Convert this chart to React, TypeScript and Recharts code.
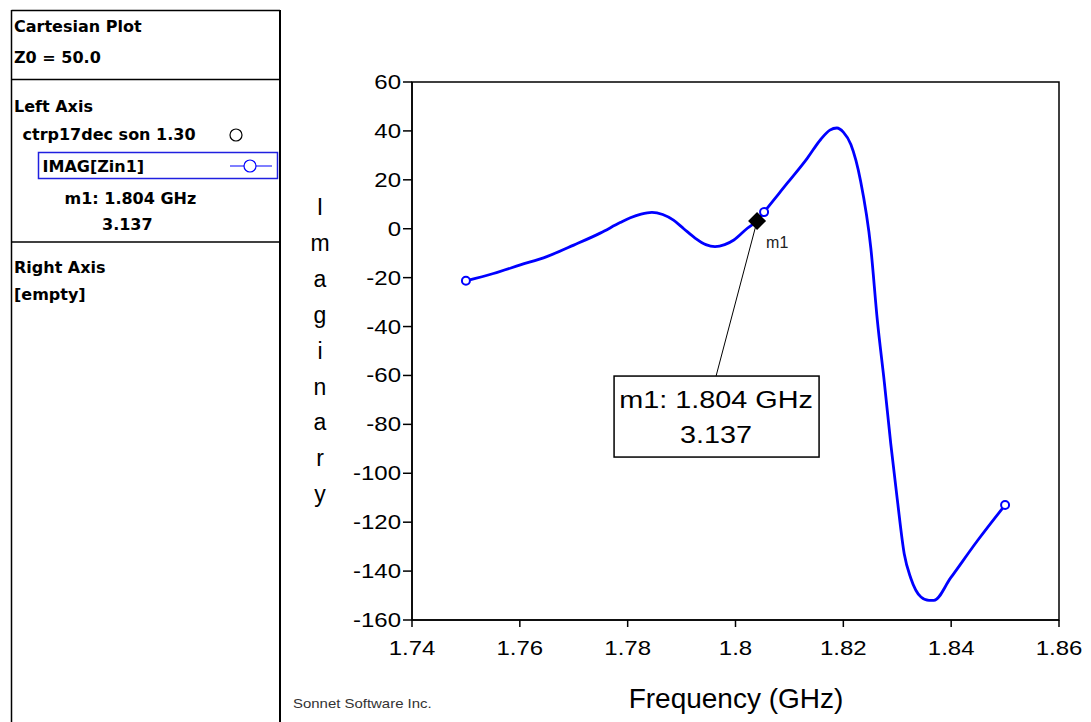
import React from "react";
import { LineChart, Line, XAxis, YAxis, ReferenceArea, ReferenceDot } from "recharts";

const freq = [
  1.75, 1.7551, 1.7601, 1.765, 1.77, 1.7749, 1.7786, 1.7805, 1.7825, 1.7845, 1.7865, 1.7885,
  1.7904, 1.7925, 1.7945, 1.7962, 1.798, 1.7997, 1.8022, 1.804, 1.8053, 1.8096, 1.8133, 1.8158,
  1.8175, 1.8188, 1.82, 1.8214, 1.8232, 1.8251, 1.8263, 1.8276, 1.8288, 1.83, 1.8313, 1.8325,
  1.8344, 1.8359, 1.8368, 1.8399, 1.8449, 1.85,
];
const imag = [
  -21.3, -18.3, -14.8, -11.4, -6.7, -1.8, 2.5, 4.5, 6.0, 6.7, 5.8, 3.5,
  0.0, -3.8, -6.5, -7.3, -6.5, -4.6, 0.2, 3.137, 6.8, 18.6, 28.8, 36.5,
  40.3, 41.2, 39.5, 34.4, 19.5, -7.9, -37.3, -62.7, -88, -110.6, -133, -142.8,
  -150.6, -152, -152, -142.8, -127.5, -113,
];
const markerFreqs = [1.75, 1.8053, 1.85];
const xTicks = [1.74, 1.76, 1.78, 1.8, 1.82, 1.84, 1.86];
const xTickLabels = ["1.74", "1.76", "1.78", "1.8", "1.82", "1.84", "1.86"];
const yTicks = [-160, -140, -120, -100, -80, -60, -40, -20, 0, 20, 40, 60];
const m1Freq = 1.804;
const m1Value = 3.137;
const m1Label = "m1";
const m1BoxLine1 = "m1: 1.804 GHz";
const m1BoxLine2 = "3.137";
const yAxisTitle = "Imaginary";
const xAxisTitle = "Frequency (GHz)";
const footer = "Sonnet Software Inc.";
const panelTitle = "Cartesian Plot";
const panelZ0 = "Z0 = 50.0";
const leftAxisTitle = "Left Axis";
const fileName = "ctrp17dec son 1.30";
const traceName = "IMAG[Zin1]";
const panelMarker1 = "m1: 1.804 GHz";
const panelMarker2 = "3.137";
const rightAxisTitle = "Right Axis";
const rightAxisEmpty = "[empty]";

const data = freq.map((f, i) => ({ freq: f, imag: imag[i] }));

const TICK_FONT = "'Liberation Sans', Arial, sans-serif";
const PANEL_FONT = "'DejaVu Sans', sans-serif";

const YTick = (props: any) => {
  const { x, y, payload } = props;
  return (
    <g transform={`translate(${x},${y})`}>
      <text transform="scale(1.2,1)" textAnchor="end" dy={7} fontSize={20} fontFamily={TICK_FONT} fill="#000">
        {String(payload.value)}
      </text>
    </g>
  );
};

const XTick = (props: any) => {
  const { x, y, payload } = props;
  const idx = xTicks.findIndex((t) => Math.abs(t - payload.value) < 1e-9);
  const label = idx >= 0 ? xTickLabels[idx] : String(payload.value);
  return (
    <g transform={`translate(${x},${y})`}>
      <text transform="scale(1.2,1)" textAnchor="middle" dy={14} fontSize={20} fontFamily={TICK_FONT} fill="#000">
        {label}
      </text>
    </g>
  );
};

const renderDot = (props: any) => {
  const { cx, cy, payload, index } = props;
  const show = markerFreqs.some((m) => Math.abs(m - payload.freq) < 1e-6);
  if (!show) return <g key={`d-${index}`} />;
  return <circle key={`d-${index}`} cx={cx} cy={cy} r={4} fill="#fff" stroke="#0000ff" strokeWidth={2} />;
};

const M1Shape = (props: any) => {
  const { cx, cy } = props;
  if (cx == null || cy == null) return <g />;
  const bx = cx - 143;
  const by = cy + 155;
  return (
    <g>
      <line x1={cx} y1={cy} x2={cx - 41} y2={by} stroke="#000" strokeWidth={1} />
      <polygon points={`${cx},${cy - 9} ${cx + 9},${cy} ${cx},${cy + 9} ${cx - 9},${cy}`} fill="#000" />
      <text x={cx + 9} y={cy + 27} fontSize={16} fontFamily={TICK_FONT} fill="#222">
        {m1Label}
      </text>
      <rect x={bx} y={by} width={205} height={81} fill="#fff" stroke="#000" strokeWidth={1.5} />
      <g transform={`translate(${cx - 41},${cy + 187})`}>
        <text transform="scale(1.2,1)" textAnchor="middle" fontSize={24} fontFamily={TICK_FONT} fill="#000">
          {m1BoxLine1}
        </text>
      </g>
      <g transform={`translate(${cx - 41},${cy + 222})`}>
        <text transform="scale(1.2,1)" textAnchor="middle" fontSize={24} fontFamily={TICK_FONT} fill="#000">
          {m1BoxLine2}
        </text>
      </g>
    </g>
  );
};

export default function App() {
  const letters = yAxisTitle.split("");
  return (
    <div style={{ position: "absolute", left: 0, top: 0, width: 1091, height: 722, background: "#fff", overflow: "hidden" }}>
      <div style={{ position: "absolute", left: 0, top: 0 }}>
        <LineChart width={1091} height={722} data={data} margin={{ top: 82, right: 32, left: 0, bottom: 0 }}>
          <XAxis
            dataKey="freq"
            type="number"
            domain={[1.74, 1.86]}
            ticks={xTicks}
            allowDataOverflow
            height={102}
            stroke="#000"
            strokeWidth={1.5}
            tickSize={7}
            tickMargin={14}
            tick={<XTick />}
            tickLine={{ stroke: "#000", strokeWidth: 1.5 }}
            axisLine={{ stroke: "#000", strokeWidth: 1.5 }}
            interval={0}
          />
          <YAxis
            type="number"
            domain={[-160, 60]}
            ticks={yTicks}
            allowDataOverflow
            width={412}
            stroke="#000"
            tickSize={9}
            tickMargin={2}
            tick={<YTick />}
            tickLine={{ stroke: "#000", strokeWidth: 1.5 }}
            axisLine={{ stroke: "#000", strokeWidth: 1.5 }}
            interval={0}
          />
          <ReferenceArea x1={1.74} x2={1.86} y1={-160} y2={60} fill="none" fillOpacity={0} stroke="#000" strokeWidth={1.5} />
          <Line
            type="monotone"
            dataKey="imag"
            stroke="#0000ff"
            strokeWidth={2.8}
            dot={renderDot}
            activeDot={false}
            isAnimationActive={false}
          />
          <ReferenceDot x={m1Freq} y={m1Value} r={0} shape={(p: any) => <M1Shape {...p} />} />
        </LineChart>
      </div>
      <svg width={1091} height={722} style={{ position: "absolute", left: 0, top: 0, pointerEvents: "none" }}>
        {/* left panel */}
        <line x1={11.5} y1={10.5} x2={280} y2={10.5} stroke="#000" strokeWidth={1.5} />
        <line x1={11.5} y1={10} x2={11.5} y2={722} stroke="#000" strokeWidth={1.5} />
        <line x1={280} y1={10} x2={280} y2={722} stroke="#000" strokeWidth={2} />
        <line x1={11.5} y1={79.5} x2={280} y2={79.5} stroke="#000" strokeWidth={1.5} />
        <line x1={11.5} y1={242} x2={280} y2={242} stroke="#000" strokeWidth={1.5} />
        <g fontFamily={PANEL_FONT} fontWeight="bold" fontSize={16} fill="#000">
          <text x={14} y={31.5}>{panelTitle}</text>
          <text x={14} y={63}>{panelZ0}</text>
          <text x={14} y={111.5}>{leftAxisTitle}</text>
          <text x={22.5} y={140}>{fileName}</text>
          <text x={42.5} y={171.5}>{traceName}</text>
          <text x={64.5} y={204}>{panelMarker1}</text>
          <text x={102} y={230}>{panelMarker2}</text>
          <text x={14} y={273}>{rightAxisTitle}</text>
          <text x={14} y={300}>{rightAxisEmpty}</text>
        </g>
        <circle cx={236} cy={135} r={6} fill="#fff" stroke="#000" strokeWidth={1.2} />
        <rect x={38.5} y={152.5} width={239} height={26} fill="none" stroke="#2020e0" strokeWidth={1.5} />
        <line x1={230} y1={166} x2={272} y2={166} stroke="#0000ff" strokeWidth={1.2} />
        <circle cx={250} cy={166} r={6} fill="#fff" stroke="#0000ff" strokeWidth={1.2} />
        {/* y axis title, stacked letters */}
        <g fontFamily={TICK_FONT} fontSize={23} fill="#000" textAnchor="middle">
          {letters.map((ch, i) => (
            <text key={i} x={320} y={215 + i * 35.9}>
              {ch}
            </text>
          ))}
        </g>
        <text x={736} y={708} textAnchor="middle" fontFamily={TICK_FONT} fontSize={28} fill="#000">
          {xAxisTitle}
        </text>
        <g transform="translate(293,708)">
          <text transform="scale(1.15,1)" fontFamily={TICK_FONT} fontSize={13} fill="#333">
            {footer}
          </text>
        </g>
      </svg>
    </div>
  );
}
